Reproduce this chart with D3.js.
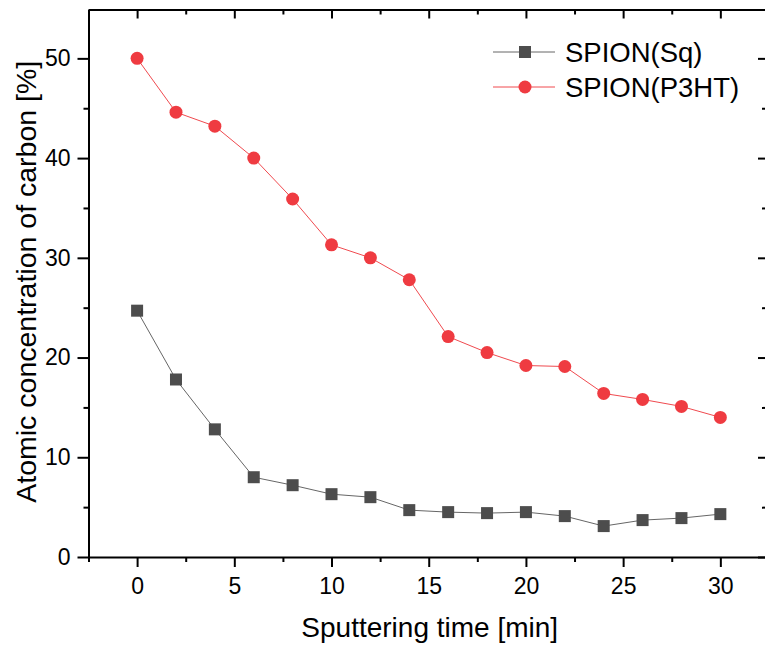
<!DOCTYPE html>
<html>
<head>
<meta charset="utf-8">
<script src="https://cdn.jsdelivr.net/npm/d3@7"></script>
<style>
  body { margin: 0; background: #fff; }
  text { font-family: Arial, "Liberation Sans", sans-serif; fill: #000; }
</style>
</head>
<body>
<div id="chart"></div>
<script>
// Sputtering time in minutes
const times = [0, 2, 4, 6, 8, 10, 12, 14, 16, 18, 20, 22, 24, 26, 28, 30];
// Atomic concentration of carbon [%]
const sqValues = [24.7, 17.8, 12.8, 8.0, 7.2, 6.3, 6.0, 4.7, 4.5, 4.4, 4.5, 4.1, 3.1, 3.7, 3.9, 4.3];
const p3htValues = [50.0, 44.6, 43.2, 40.0, 35.9, 31.3, 30.0, 27.8, 22.1, 20.5, 19.2, 19.1, 16.4, 15.8, 15.1, 14.0];
const seriesNames = ["SPION(Sq)", "SPION(P3HT)"];
const xTicks = [0, 5, 10, 15, 20, 25, 30];
const yTicks = [0, 10, 20, 30, 40, 50];

const width = 765, height = 648;
const margin = {top: 9.5, right: -2, bottom: 91, left: 88.5};
const innerW = width - margin.left - margin.right;
const innerH = height - margin.top - margin.bottom;

const xScale = d3.scaleLinear().domain([-2.5, 32.4]).range([0, innerW]);
const yScale = d3.scaleLinear().domain([0, 54.9]).range([innerH, 0]);

const svg = d3.select("#chart").append("svg")
    .attr("width", width)
    .attr("height", height);

const g = svg.append("g")
    .attr("transform", `translate(${margin.left}, ${margin.top})`);

const minorX = d3.range(-2.5, 32.5, 2.5).filter(v => v % 5 !== 0);
const minorY = d3.range(5, 55, 10);

function styleAxis(sel) {
    sel.selectAll("path").attr("stroke-width", 2).attr("stroke", "#000");
    sel.selectAll("line").attr("stroke-width", 2).attr("stroke", "#000");
}

// bottom axis (outward ticks)
const bottom = g.append("g")
    .attr("transform", `translate(0, ${innerH})`)
    .call(d3.axisBottom(xScale).tickValues(xTicks).tickSize(10).tickSizeOuter(0).tickPadding(11));
bottom.selectAll("text").style("font-size", "23px");
styleAxis(bottom);
g.append("g")
    .attr("transform", `translate(0, ${innerH})`)
    .call(d3.axisBottom(xScale).tickValues(minorX).tickSize(5).tickFormat(""))
    .call(s => s.select("path").remove())
    .call(styleAxis);

// left axis (outward ticks)
const left = g.append("g")
    .call(d3.axisLeft(yScale).tickValues(yTicks).tickSize(11).tickSizeOuter(0).tickPadding(7));
left.selectAll("text").style("font-size", "23px");
styleAxis(left);
g.append("g")
    .call(d3.axisLeft(yScale).tickValues(minorY).tickSize(5).tickFormat(""))
    .call(s => s.select("path").remove())
    .call(styleAxis);

// top axis (inward ticks)
g.append("g")
    .call(d3.axisTop(xScale).tickValues(xTicks).tickSize(-9).tickSizeOuter(0).tickFormat(""))
    .call(styleAxis);
g.append("g")
    .call(d3.axisTop(xScale).tickValues(minorX).tickSize(-5).tickFormat(""))
    .call(s => s.select("path").remove())
    .call(styleAxis);

// right axis (inward ticks)
g.append("g")
    .attr("transform", `translate(${innerW}, 0)`)
    .call(d3.axisRight(yScale).tickValues(yTicks).tickSize(-9).tickSizeOuter(0).tickFormat(""))
    .call(styleAxis);
g.append("g")
    .attr("transform", `translate(${innerW}, 0)`)
    .call(d3.axisRight(yScale).tickValues(minorY).tickSize(-5).tickFormat(""))
    .call(s => s.select("path").remove())
    .call(styleAxis);

// axis titles
svg.append("text")
    .attr("x", margin.left + xScale(15) + 1)
    .attr("y", 637)
    .attr("text-anchor", "middle")
    .style("font-size", "28px")
    .text("Sputtering time [min]");

svg.append("text")
    .attr("transform", `translate(36, ${margin.top + yScale(27.6)}) rotate(-90)`)
    .attr("text-anchor", "middle")
    .style("font-size", "28.5px")
    .text("Atomic concentration of carbon [%]");

const line = d3.line()
    .x((d, i) => xScale(times[i]))
    .y(d => yScale(d));

const sqColor = "#4d4d4d", sqLine = "#666";
const redColor = "#ef3b41", redLine = "#f04a4f";

// SPION(Sq)
g.append("path")
    .datum(sqValues)
    .attr("fill", "none")
    .attr("stroke", sqLine)
    .attr("stroke-width", 1)
    .attr("d", line);
g.selectAll(".sq")
    .data(sqValues)
    .enter().append("rect")
    .attr("class", "sq")
    .attr("x", (d, i) => xScale(times[i]) - 6)
    .attr("y", d => yScale(d) - 6)
    .attr("width", 12)
    .attr("height", 12)
    .attr("fill", sqColor);

// SPION(P3HT)
g.append("path")
    .datum(p3htValues)
    .attr("fill", "none")
    .attr("stroke", redLine)
    .attr("stroke-width", 1)
    .attr("d", line);
g.selectAll(".p3")
    .data(p3htValues)
    .enter().append("circle")
    .attr("class", "p3")
    .attr("cx", (d, i) => xScale(times[i]))
    .attr("cy", d => yScale(d))
    .attr("r", 6.5)
    .attr("fill", redColor);

// legend
const legend = svg.append("g");
const legendRows = [
    {name: seriesNames[0], y: 52, color: sqColor, lineColor: sqLine, shape: "rect"},
    {name: seriesNames[1], y: 87, color: redColor, lineColor: redLine, shape: "circle"}
];
legendRows.forEach(r => {
    legend.append("line")
        .attr("x1", 493).attr("x2", 555)
        .attr("y1", r.y).attr("y2", r.y)
        .attr("stroke", r.lineColor).attr("stroke-width", 1);
    if (r.shape === "rect") {
        legend.append("rect")
            .attr("x", 519).attr("y", r.y - 6)
            .attr("width", 12).attr("height", 12)
            .attr("fill", r.color);
    } else {
        legend.append("circle")
            .attr("cx", 525).attr("cy", r.y)
            .attr("r", 6.5)
            .attr("fill", r.color);
    }
    legend.append("text")
        .attr("x", 565)
        .attr("y", r.y + 10)
        .style("font-size", "27.5px")
        .text(r.name);
});
</script>
</body>
</html>
